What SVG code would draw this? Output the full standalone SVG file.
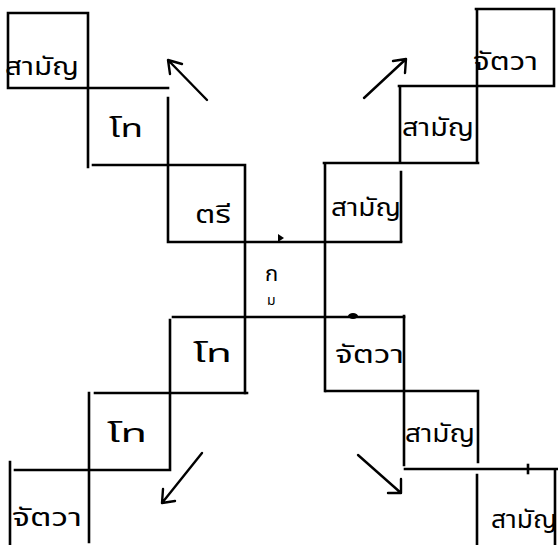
<svg xmlns="http://www.w3.org/2000/svg" width="558" height="545" viewBox="0 0 558 545">
<style>
.ln{stroke:#000;stroke-width:2.6;fill:none;stroke-linecap:square}
.ar{stroke:#000;stroke-width:2.4;fill:none;stroke-linecap:round;stroke-linejoin:miter}
.t{font-family:"Noto Sans","Noto Sans Thai",sans-serif;font-size:24px;fill:#000}
</style>
<rect width="558" height="545" fill="#fff"/>
<g id="connectors">
<path class="ln" d="M8 13H88M8 13V88M88 13V167M8 88H168M168 98V242M93 165H245M245 165V393M168 242H401"/>
<path class="ln" d="M325 163V391M324 163H478M401 172V241M400 86V163M399 86H554M477 9V163M476 9H554M554 9V86"/>
<path class="ln" d="M173 317H404"/>
<path class="ln" d="M170 320V470M95 393H247M89 393V542M15 470H170M10 462V545"/>
<path class="ln" d="M404 316V465M326 391H478M478 391V462M405 469H558M477 475V545M555 469V545"/>
<path d="M278 242V234L284 238Z" fill="#000"/>
<ellipse cx="353" cy="316" rx="5" ry="3" fill="#000"/>
<path class="ln" d="M528 465V473"/>
<path class="ar" d="M207 100L168 60M168 60L170 74M168 60L182 64"/>
<path class="ar" d="M364 98L406 59M406 59L393 61M406 59L405 73"/>
<path class="ar" d="M202 453L162 503M162 503L175 501M162 503L163 489"/>
<path class="ar" d="M358 455L401 493M401 493L388 493M401 493L401 479"/>
</g>
<g id="n1"><text class="t" x="5" y="75" textLength="74" lengthAdjust="spacingAndGlyphs">สามัญ</text></g>
<g id="n2"><text class="t" x="109" y="137" textLength="34" lengthAdjust="spacingAndGlyphs">โท</text></g>
<g id="n3"><text class="t" x="195" y="223" textLength="36" lengthAdjust="spacingAndGlyphs">ตรี</text></g>
<g id="n4"><text class="t" x="473" y="70" textLength="65" lengthAdjust="spacingAndGlyphs">จัตวา</text></g>
<g id="n5"><text class="t" x="402" y="136" textLength="72" lengthAdjust="spacingAndGlyphs">สามัญ</text></g>
<g id="n6"><text class="t" x="331" y="216" textLength="70" lengthAdjust="spacingAndGlyphs">สามัญ</text></g>
<g id="n7"><text class="t" x="265" y="281" style="font-size:22px">ก</text><text class="t" x="267" y="305" style="font-size:14px">ม</text></g>
<g id="n8"><text class="t" x="193" y="362" textLength="39" lengthAdjust="spacingAndGlyphs">โท</text></g>
<g id="n9"><text class="t" x="107" y="442" textLength="40" lengthAdjust="spacingAndGlyphs">โท</text></g>
<g id="n10"><text class="t" x="12" y="526" textLength="70" lengthAdjust="spacingAndGlyphs">จัตวา</text></g>
<g id="n11"><text class="t" x="335" y="363" textLength="69" lengthAdjust="spacingAndGlyphs">จัตวา</text></g>
<g id="n12"><text class="t" x="405" y="442" textLength="70" lengthAdjust="spacingAndGlyphs">สามัญ</text></g>
<g id="n13"><text class="t" x="491" y="528" textLength="66" lengthAdjust="spacingAndGlyphs">สามัญ</text></g>
</svg>
